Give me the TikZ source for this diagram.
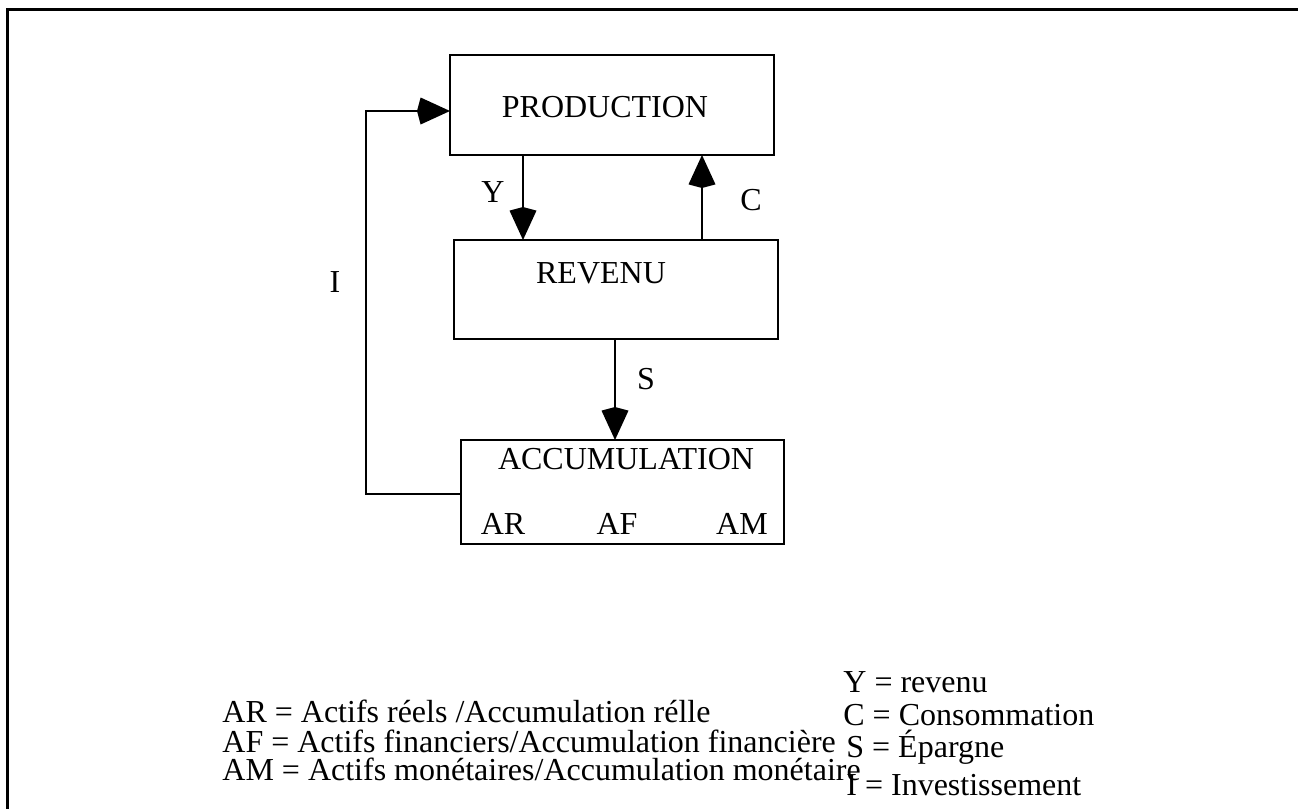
\documentclass[tikz,border=0pt]{standalone}
\usepackage{fontspec}
\setmainfont{Liberation Serif}
\usetikzlibrary{arrows.meta}
\begin{document}
\begin{tikzpicture}[x=0.5pt,y=-0.5pt,
  every node/.style={font=\fontsize{16}{18}\selectfont},
  boxnode/.style={draw,line width=1pt,inner sep=0pt,outer sep=0pt},
  lbl/.style={anchor=base,inner sep=0pt},
  leg/.style={anchor=base west,inner sep=0pt},
  arr/.style={line width=1pt,-{Kite[length=16.5pt,width=13.5pt,inset=1.8pt]}},
  link/.style={line width=1pt}]
\useasboundingbox (0,0) rectangle (1298,809);
\draw[line width=1.5pt] (7,812) -- (7,9) -- (1300,9);
% boxes
\node[boxnode,minimum width=162pt,minimum height=50pt] (prod) at (612,105) {};
\node[boxnode,minimum width=162pt,minimum height=49.5pt] (rev) at (616,289.5) {};
\node[boxnode,minimum width=161.5pt,minimum height=52pt] (acc) at (622.5,492) {};
% box texts
\node[lbl] (prodtxt) at (605,117) {PRODUCTION};
\node[lbl] (revtxt) at (601,283) {REVENU};
\node[lbl] (acctxt) at (626,469) {ACCUMULATION};
\node[lbl] (ar) at (503,534) {AR};
\node[lbl] (af) at (617,534) {AF};
\node[lbl] (am) at (742,534) {AM};
% connectors
\draw[arr] ([xshift=36.5pt]prod.south west) -- ([xshift=36.5pt]prod.south west |- rev.north);
\draw[arr] ([xshift=126pt]prod.south west |- rev.north) -- ([xshift=126pt]prod.south west);
\draw[arr] ([xshift=80.5pt]rev.south west) -- ([xshift=80.5pt]rev.south west |- acc.north);
\coordinate (loopx) at (366,0);
\draw[arr] ([yshift=-1pt]acc.west) -- ([yshift=-1pt]acc.west -| loopx) |- ([yshift=-3pt]prod.west);
% flow labels
\node[lbl] (ylab) at (493,202) {Y};
\node[lbl] (clab) at (751,210) {C};
\node[lbl] (slab) at (646,389) {S};
\node[lbl] (ilab) at (335,292) {I};
% legends
\node[leg] (legar) at (222,722) {AR = Actifs réels /Accumulation rélle};
\node[leg] (legaf) at (222,752) {AF = Actifs financiers/Accumulation financière};
\node[leg] (legam) at (222,780) {AM = Actifs monétaires/Accumulation monétaire};
\node[leg] (legy) at (843,692) {Y = revenu};
\node[leg] (legc) at (843,725) {C = Consommation};
\node[leg] (legs) at (846,757) {S = Épargne};
\node[leg] (legi) at (846,795) {I = Investissement};
\end{tikzpicture}
\end{document}
